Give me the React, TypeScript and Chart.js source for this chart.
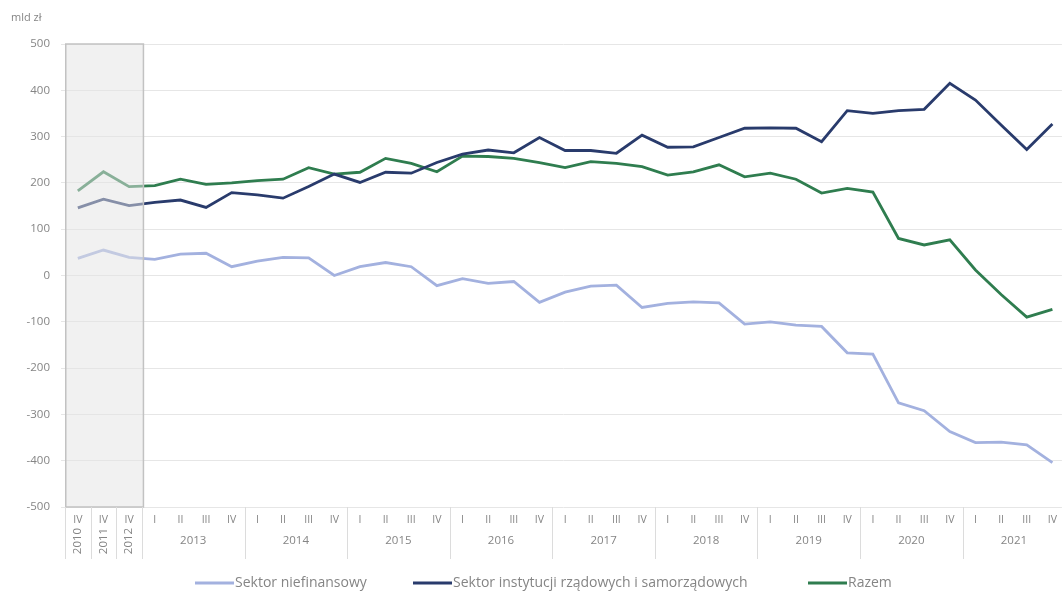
import React, { useEffect, useRef } from "react";
import { Chart, registerables } from "chart.js";

Chart.register(...registerables);

const quarterLabels = [
  "IV", "IV", "IV",
  "I", "II", "III", "IV",
  "I", "II", "III", "IV",
  "I", "II", "III", "IV",
  "I", "II", "III", "IV",
  "I", "II", "III", "IV",
  "I", "II", "III", "IV",
  "I", "II", "III", "IV",
  "I", "II", "III", "IV",
  "I", "II", "III", "IV",
];

const yearLabels = [
  "2010", "2011", "2012",
  "2013", "2013", "2013", "2013",
  "2014", "2014", "2014", "2014",
  "2015", "2015", "2015", "2015",
  "2016", "2016", "2016", "2016",
  "2017", "2017", "2017", "2017",
  "2018", "2018", "2018", "2018",
  "2019", "2019", "2019", "2019",
  "2020", "2020", "2020", "2020",
  "2021", "2021", "2021", "2021",
];

const sektorNiefinansowy = [
  37, 55, 39,
  35, 46, 48, 19,
  31, 39, 38, 0,
  19, 28, 19, -22,
  -7, -17, -13, -58,
  -36, -23, -21, -69,
  -60, -57, -59, -105,
  -100, -107, -110, -167,
  -170, -275, -292, -337,
  -361, -360, -366, -404,
];

const sektorRzadowy = [
  146, 165, 151,
  158, 163, 147, 179,
  174, 167, 192, 219,
  201, 223, 221, 244,
  262, 271, 265, 298,
  270, 270, 264, 303,
  277, 278, 298, 318,
  319, 318, 289, 356,
  350, 356, 359, 415,
  379, 325, 272, 327,
];

const razem = [
  183, 224, 192,
  194, 208, 197, 200,
  205, 208, 233, 219,
  223, 253, 242, 224,
  258, 257, 253, 244,
  233, 246, 242, 235,
  217, 224, 239, 213,
  221, 208, 178, 188,
  180, 80, 66, 77,
  12, -41, -90, -73,
];

const seriesNames = [
  "Sektor niefinansowy",
  "Sektor instytucji rządowych i samorządowych",
  "Razem",
];
const seriesColors = ["#a3b1df", "#293b6c", "#2f7d4f"];
const unitLabel = "mld zł";
const shadedCount = 3;

const FONT = "'Open Sans', 'DejaVu Sans', sans-serif";
const TEXT = "#858585";

export default function App() {
  const ref = useRef<HTMLCanvasElement>(null);

  useEffect(() => {
    if (!ref.current) return;
    const n = quarterLabels.length;
    const toPts = (arr: number[]) => arr.map((y, i) => ({ x: i, y }));
    const seriesData = [sektorNiefinansowy, sektorRzadowy, razem];

    const decor = {
      id: "decor",
      afterDatasetsDraw(chart: any) {
        const { ctx, chartArea: a, scales } = chart;
        const x = scales.x;
        const x0 = x.getPixelForValue(-0.5);
        const x1 = x.getPixelForValue(shadedCount - 0.5) + 1.5;
        ctx.save();
        ctx.fillStyle = "rgba(228,228,228,0.5)";
        ctx.fillRect(x0, a.top, x1 - x0, a.bottom - a.top);
        ctx.strokeStyle = "#c2c2c2";
        ctx.lineWidth = 1.5;
        ctx.strokeRect(x0 + 0.75, a.top, x1 - x0 - 0.75, a.bottom - a.top);
        ctx.restore();
      },
      afterDraw(chart: any) {
        const { ctx, chartArea: a, scales } = chart;
        const x = scales.x;
        ctx.save();
        const runs: { s: number; e: number; label: string }[] = [];
        for (let i = 0; i < n; i++) {
          const last = runs[runs.length - 1];
          if (last && last.label === yearLabels[i]) last.e = i;
          else runs.push({ s: i, e: i, label: yearLabels[i] });
        }
        ctx.strokeStyle = "#dcdcdc";
        ctx.lineWidth = 1;
        runs.forEach((r) => {
          const bx = Math.round(x.getPixelForValue(r.s - 0.5)) + 0.5;
          ctx.beginPath();
          ctx.moveTo(bx, a.bottom);
          ctx.lineTo(bx, a.bottom + 52);
          ctx.stroke();
        });
        ctx.fillStyle = TEXT;
        ctx.font = `11.5px ${FONT}`;
        runs.forEach((r) => {
          const cx = (x.getPixelForValue(r.s) + x.getPixelForValue(r.e)) / 2;
          ctx.textAlign = "center";
          ctx.textBaseline = "middle";
          if (r.s === r.e) {
            ctx.save();
            ctx.translate(cx, a.bottom + 34);
            ctx.rotate(-Math.PI / 2);
            ctx.fillText(r.label, 0, 0);
            ctx.restore();
          } else {
            ctx.fillText(r.label, cx, a.bottom + 34);
          }
        });
        ctx.font = `11px ${FONT}`;
        ctx.textAlign = "left";
        ctx.textBaseline = "middle";
        ctx.fillText(unitLabel, 11, 18);
        const lx = [195, 413, 808];
        const ly = 583;
        ctx.font = `14px ${FONT}`;
        seriesNames.forEach((name, i) => {
          ctx.strokeStyle = seriesColors[i];
          ctx.lineWidth = 3;
          ctx.beginPath();
          ctx.moveTo(lx[i], ly);
          ctx.lineTo(lx[i] + 39, ly);
          ctx.stroke();
          ctx.fillStyle = TEXT;
          ctx.textAlign = "left";
          ctx.textBaseline = "middle";
          ctx.fillText(name, lx[i] + 40, ly);
        });
        ctx.restore();
      },
    };

    const chart = new Chart(ref.current, {
      type: "line",
      data: {
        datasets: seriesNames.map((name, i) => ({
          label: name,
          data: toPts(seriesData[i]),
          borderColor: seriesColors[i],
          backgroundColor: seriesColors[i],
          borderWidth: 2.8,
          pointRadius: 0,
          tension: 0,
          fill: false,
        })),
      },
      options: {
        animation: false,
        responsive: true,
        maintainAspectRatio: false,
        layout: { padding: { top: 44, right: 0, left: 0, bottom: 0 } },
        plugins: {
          legend: { display: false },
          tooltip: { enabled: false },
        },
        scales: {
          x: {
            type: "linear",
            min: -0.5,
            max: 38.37,
            afterBuildTicks: (s: any) => {
              s.ticks = quarterLabels.map((_, i) => ({ value: i }));
            },
            afterFit: (s: any) => {
              s.height = 85;
            },
            ticks: {
              autoSkip: false,
              maxRotation: 0,
              minRotation: 0,
              padding: 7,
              color: TEXT,
              font: { family: FONT, size: 10.5 },
              callback: (v: any) => quarterLabels[v as number] ?? "",
            },
            grid: { display: false, drawTicks: false },
            border: { display: false },
          },
          y: {
            min: -500,
            max: 500,
            afterFit: (s: any) => {
              s.width = 65;
            },
            ticks: {
              stepSize: 100,
              padding: 11,
              color: TEXT,
              font: { family: FONT, size: 11.5 },
            },
            grid: { color: "#e6e6e6", lineWidth: 1, tickLength: 4 },
            border: { display: false },
          },
        },
      },
      plugins: [decor],
    } as any);

    return () => chart.destroy();
  }, []);

  return (
    <div
      style={{
        position: "fixed",
        left: 0,
        top: 0,
        width: 1064,
        height: 592,
        background: "#ffffff",
      }}
    >
      <canvas ref={ref} />
    </div>
  );
}
